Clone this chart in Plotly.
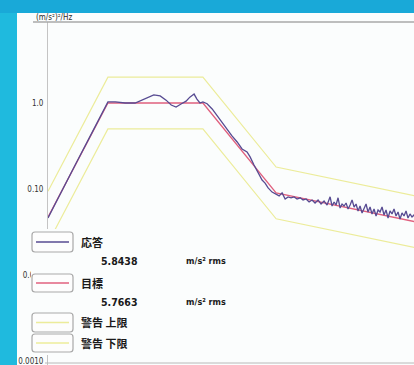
import plotly.graph_objects as go

W, H = 414, 365

# Target profile breakpoints: frequency (Hz) and PSD ((m/s²)²/Hz)
target_freq = [5, 10, 30, 70, 500]
target_psd = [0.047, 1.0, 1.0, 0.09, 0.035]
# Warning limits (±3 dB around the target)
upper_psd = [0.094, 2.0, 2.0, 0.18, 0.070]
lower_psd = [0.0235, 0.5, 0.5, 0.045, 0.0175]

# Measured response
response_freq = [
    5, 6, 7, 8, 9, 10,
    10.9, 12.2, 13.7, 14.8, 15.9, 17.0, 18.3, 19.6, 20.8, 22.0, 23.3, 24.7, 25.8, 27.1, 28.0, 29.0, 30.0,
    31.5, 33.4, 35.4, 37.4, 39.7, 42.0, 44.6, 47.2, 50.0, 51.8, 54.2, 56.8, 59.5, 61.6, 63.8, 66.8,
    70.0, 72.5, 75.0, 77.7, 80.4, 83.2, 86.2, 89.2, 92.4, 95.6, 99.0, 102.5, 106.1, 109.8, 113.7,
    117.7, 121.9, 126.2, 130.7, 133.7, 136.9, 140.0, 143.3, 146.7, 150.1, 153.6, 157.2, 160.9,
    164.7, 168.5, 172.5, 176.5, 180.6, 184.8, 189.2, 193.6, 198.1, 202.7, 207.5, 212.3, 217.3,
    222.4, 227.6, 232.9, 238.4, 243.9, 249.6, 255.5, 261.4, 267.5, 273.8, 280.2, 286.8, 293.5,
    300.3, 307.4, 314.6, 321.9, 329.4, 337.1, 345.0, 353.1,
]
response_psd = [
    0.046, 0.107, 0.21, 0.38, 0.64, 1.03,
    1.03, 1.0, 1.0, 1.08, 1.17, 1.24, 1.21, 1.08, 0.948, 0.898, 0.974, 1.05, 1.17, 1.27, 1.11, 1.0, 1.03,
    0.98, 0.852, 0.706, 0.601, 0.486, 0.414, 0.352, 0.292, 0.269, 0.236, 0.190, 0.158, 0.127, 0.117, 0.103, 0.092,
    0.087, 0.083, 0.090, 0.0765, 0.081, 0.079, 0.081, 0.0765, 0.079, 0.0745, 0.0765, 0.0706, 0.0745, 0.0687, 0.0745,
    0.0669, 0.0725, 0.0651, 0.081, 0.0634, 0.0706, 0.0651, 0.079, 0.0601, 0.0669, 0.0634, 0.0687, 0.0585,
    0.0651, 0.0745, 0.0617, 0.0669, 0.0555, 0.0634, 0.0526, 0.0601, 0.0669, 0.0540, 0.0617, 0.0512, 0.0585,
    0.0485, 0.0570, 0.0540, 0.0617, 0.0498, 0.0570, 0.0460, 0.0555, 0.0512, 0.0585, 0.0485, 0.0540, 0.0448,
    0.0526, 0.0485, 0.0555, 0.0460, 0.0512, 0.0472, 0.0498, 0.0448,
]

y_tick_vals = [1.0, 0.1, 0.01, 0.001]
y_tick_text = ["1.0", "0.10", "0.010", "0.0010"]

legend_names = ["応答", "目標", "警告 上限", "警告 下限"]
rms_values = ["5.8438", "5.7663"]
rms_unit = "m/s² rms"

COL_RESP = "#574b92"
COL_TGT = "#e0607e"
COL_WARN = "#ecec9a"


def px(x):
    return x / W


def py(y):
    return 1 - y / H


fig = go.Figure()
fig.add_trace(go.Scatter(x=target_freq, y=upper_psd, mode="lines",
                         line=dict(color=COL_WARN, width=1.2), name=legend_names[2]))
fig.add_trace(go.Scatter(x=target_freq, y=lower_psd, mode="lines",
                         line=dict(color=COL_WARN, width=1.2), name=legend_names[3]))
fig.add_trace(go.Scatter(x=target_freq, y=target_psd, mode="lines",
                         line=dict(color=COL_TGT, width=1.3), name=legend_names[1]))
fig.add_trace(go.Scatter(x=response_freq, y=response_psd, mode="lines",
                         line=dict(color=COL_RESP, width=1.3), name=legend_names[0]))

shapes = []
# white panel over the blue surround
shapes.append(dict(type="rect", xref="paper", yref="paper", layer="below",
                   x0=px(17), x1=px(W + 2), y0=py(H + 2), y1=py(13),
                   fillcolor="#fbfdfd", line=dict(width=0)))
# top band of the surround
shapes.append(dict(type="rect", xref="paper", yref="paper", layer="below",
                   x0=px(0), x1=px(W), y0=py(13), y1=py(0),
                   fillcolor="#19a9d8", line=dict(width=0)))
# header rule
shapes.append(dict(type="line", xref="paper", yref="paper", layer="above",
                   x0=px(33), x1=px(W), y0=py(22), y1=py(22),
                   line=dict(color="#a8a8a8", width=1.5)))
# bottom frequency axis line
shapes.append(dict(type="line", xref="paper", yref="paper", layer="above",
                   x0=px(45), x1=px(W), y0=py(363), y1=py(363),
                   line=dict(color="#b8b8b8", width=1)))
# legend panel
shapes.append(dict(type="rect", xref="paper", yref="paper", layer="above",
                   x0=px(31), x1=px(236), y0=py(355), y1=py(229),
                   fillcolor="#fbfdfd", line=dict(width=0)))


def rounded_box(x0, y0, x1, y1, r=3):
    X0, X1 = px(x0), px(x1)
    Y0, Y1 = py(y0), py(y1)
    rx, ry = r / W, r / H
    return (f"M {X0+rx},{Y0} L {X1-rx},{Y0} Q {X1},{Y0} {X1},{Y0-ry} "
            f"L {X1},{Y1+ry} Q {X1},{Y1} {X1-rx},{Y1} L {X0+rx},{Y1} "
            f"Q {X0},{Y1} {X0},{Y1+ry} L {X0},{Y0-ry} Q {X0},{Y0} {X0+rx},{Y0} Z")


legend_boxes = [(232, 252, COL_RESP), (274, 292, COL_TGT), (313, 332, COL_WARN), (334, 352, COL_WARN)]
for (ya, yb, col) in legend_boxes:
    shapes.append(dict(type="path", xref="paper", yref="paper", layer="above",
                       path=rounded_box(32, ya, 73, yb), fillcolor="#fdfdfd",
                       line=dict(color="#a9a9a9", width=1.2)))
    ym = (ya + yb) / 2
    shapes.append(dict(type="line", xref="paper", yref="paper", layer="above",
                       x0=px(36), x1=px(69), y0=py(ym), y1=py(ym),
                       line=dict(color=col, width=1.4)))

annotations = []
font_cjk = "Noto Sans CJK JP"
label_rows = [242, 283, 322, 343]
for name, yy in zip(legend_names, label_rows):
    annotations.append(dict(xref="paper", yref="paper", x=px(79), y=py(yy), text=f"<b>{name}</b>",
                            showarrow=False, xanchor="left", yanchor="middle",
                            font=dict(family=font_cjk, size=11, color="#1a1a1a")))
for val, yy in zip(rms_values, [261, 302]):
    annotations.append(dict(xref="paper", yref="paper", x=px(99), y=py(yy), text=f"<b>{val}</b>",
                            showarrow=False, xanchor="left", yanchor="middle",
                            font=dict(family="DejaVu Sans Condensed", size=10.5, color="#1a1a1a")))
    annotations.append(dict(xref="paper", yref="paper", x=px(184), y=py(yy), text=f"<b>{rms_unit}</b>",
                            showarrow=False, xanchor="left", yanchor="middle",
                            font=dict(family="DejaVu Sans Condensed", size=9, color="#1a1a1a")))
annotations.append(dict(xref="paper", yref="paper", x=px(34), y=py(17), text="(m/s²)²/Hz",
                        showarrow=False, xanchor="left", yanchor="middle",
                        font=dict(family="DejaVu Sans Condensed", size=8, color="#2a2a2a")))

fig.update_layout(
    width=W, height=H,
    margin=dict(l=0, r=0, t=0, b=0),
    paper_bgcolor="#1fbade",
    plot_bgcolor="#fbfdfd",
    showlegend=False,
    shapes=shapes,
    annotations=annotations,
    xaxis=dict(type="log", range=[0.69897, 2.5378], domain=[px(48), 1],
               showgrid=False, zeroline=False, showticklabels=False, ticks="",
               showline=False),
    yaxis=dict(type="log", range=[-3.047, 0.942], domain=[0, py(22)],
               showgrid=False, zeroline=False, ticks="",
               tickvals=y_tick_vals, ticktext=y_tick_text,
               tickfont=dict(family="DejaVu Sans Condensed", size=8, color="#333333"),
               ticklabelstandoff=2, ticklabeloverflow="allow",
               showline=True, linecolor="#c4c4c4", linewidth=1),
)

fig.write_html("out.html")
